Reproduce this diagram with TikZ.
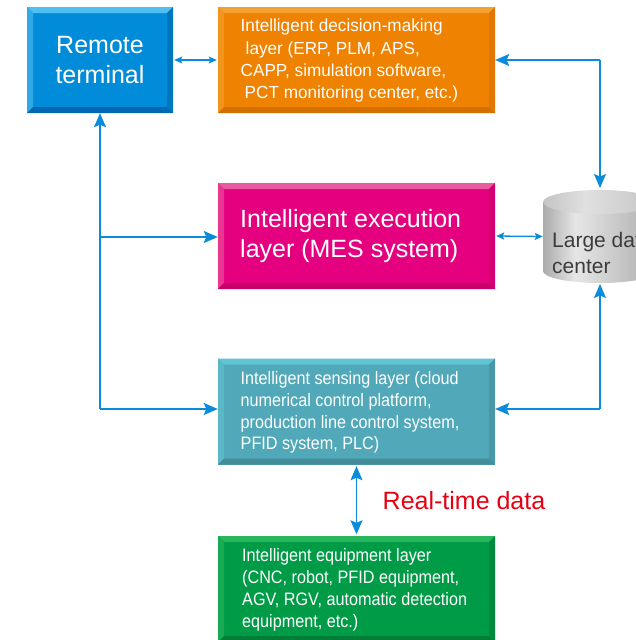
\documentclass[tikz,border=0pt]{standalone}
\usepackage{fontspec}
\setmainfont{Liberation Sans}
\newfontfamily\narrowfont[FakeStretch=0.9]{Liberation Sans}
\newfontfamily\semifont[FakeStretch=0.98]{Liberation Sans}
\usetikzlibrary{arrows.meta}
\definecolor{arr}{RGB}{10,140,218}
\definecolor{rtblue}{RGB}{0,140,216}
\definecolor{rtblueL}{RGB}{80,190,240}
\definecolor{rtblueD}{RGB}{0,104,178}
\definecolor{orng}{RGB}{239,130,0}
\definecolor{orngL}{RGB}{245,160,50}
\definecolor{orngD}{RGB}{212,112,0}
\definecolor{mgnt}{RGB}{228,0,127}
\definecolor{mgntL}{RGB}{234,90,158}
\definecolor{mgntD}{RGB}{200,0,108}
\definecolor{teal}{RGB}{80,168,185}
\definecolor{tealL}{RGB}{96,196,212}
\definecolor{tealD}{RGB}{68,140,154}
\definecolor{grn}{RGB}{0,155,70}
\definecolor{grnL}{RGB}{40,182,92}
\definecolor{grnD}{RGB}{0,126,56}
\definecolor{rtred}{RGB}{230,0,18}
\definecolor{dctext}{RGB}{60,60,60}
\definecolor{cylL}{RGB}{172,172,172}
\definecolor{cylM}{RGB}{230,230,230}
\definecolor{cyltL}{RGB}{196,196,196}
\definecolor{cyltM}{RGB}{224,224,224}
\tikzset{
  bevel/.style n args={3}{rectangle, inner sep=0pt, fill=#1,
    path picture={
      \fill[#2] (path picture bounding box.north west) -- (path picture bounding box.north east)
        -- ([xshift=-6pt,yshift=-6pt]path picture bounding box.north east)
        -- ([xshift=6pt,yshift=-6pt]path picture bounding box.north west) -- cycle;
      \fill[#2!60!#1] (path picture bounding box.north west) -- (path picture bounding box.south west)
        -- ([xshift=6pt,yshift=6pt]path picture bounding box.south west)
        -- ([xshift=6pt,yshift=-6pt]path picture bounding box.north west) -- cycle;
      \fill[#3] (path picture bounding box.south west) -- (path picture bounding box.south east)
        -- ([xshift=-6pt,yshift=6pt]path picture bounding box.south east)
        -- ([xshift=6pt,yshift=6pt]path picture bounding box.south west) -- cycle;
      \fill[#3!60!#1] (path picture bounding box.north east) -- (path picture bounding box.south east)
        -- ([xshift=-6pt,yshift=6pt]path picture bounding box.south east)
        -- ([xshift=-6pt,yshift=-6pt]path picture bounding box.north east) -- cycle;
    }},
  conn/.style={draw=arr, line width=1.3pt},
  bigtip/.style={-{Stealth[length=14pt,width=12pt,inset=2.5pt]}},
  bigtips/.style={{Stealth[length=14pt,width=12pt,inset=2.5pt]}-{Stealth[length=14pt,width=12pt,inset=2.5pt]}},
  smalltips/.style={{Stealth[length=8pt,width=7pt,inset=1.5pt]}-{Stealth[length=8pt,width=7pt,inset=1.5pt]}},
  boxtext/.style={text=white, inner sep=0pt, align=left, anchor=north west},
}
\begin{document}
\begin{tikzpicture}[x=1pt,y=-1pt]
\clip (0,0) rectangle (636,640);
\fill[white] (0,0) rectangle (636,640);

% boxes
\node[bevel={rtblue}{rtblueL}{rtblueD}, minimum width=146pt, minimum height=106pt] (rt) at (100,60) {};
\node[bevel={orng}{orngL}{orngD}, minimum width=277pt, minimum height=106pt] (dm) at (356.5,60) {};
\node[bevel={mgnt}{mgntL}{mgntD}, minimum width=277pt, minimum height=106pt] (ex) at (356.5,236) {};
\node[bevel={teal}{tealL}{tealD}, minimum width=277pt, minimum height=106pt] (se) at (356.5,411.5) {};
\node[bevel={grn}{grnL}{grnD}, minimum width=277pt, minimum height=106pt] (eq) at (356.5,589) {};

% texts
\node[text=white, align=center, font=\fontsize{25}{30}\selectfont] (rtt) at (100,60.5) {Remote\\terminal};
\node[boxtext, font=\semifont\fontsize{17.5}{22.3}\selectfont] (dmt) at (240.5,19)
  {Intelligent decision-making\\\hspace*{5pt}layer (ERP, PLM, APS,\\CAPP, simulation software,\\\hspace*{4pt}PCT monitoring center, etc.)};
\node[text=white, align=left, anchor=west, inner sep=0pt, font=\fontsize{25}{30}\selectfont] (ext) at (240,236.5) {Intelligent execution\\layer (MES system)};
\node[boxtext, font=\narrowfont\fontsize{18}{21.7}\selectfont] (set) at (240.5,371.5)
  {Intelligent sensing layer (cloud\\numerical control platform,\\production line control system,\\PFID system, PLC)};
\node[boxtext, font=\narrowfont\fontsize{18}{22}\selectfont] (eqt) at (242,548.5)
  {Intelligent equipment layer\\(CNC, robot, PFID equipment,\\AGV, RGV, automatic detection\\equipment, etc.)};

% data center cylinder (banded gradient)
\begin{scope}
  \clip (543,202) -- (543,271) arc[start angle=180,end angle=360,x radius=57pt,y radius=12pt]
    -- (657,202) -- cycle;
  \foreach \i in {0,...,57} {
    \pgfmathsetmacro\xx{543+2*\i}
    \pgfmathsetmacro\pp{ifthenelse(\xx<575, 100*(\xx-543)/32, 100*(657-\xx)/82)}
    \fill[cylM!\pp!cylL] (\xx,195) rectangle (\xx+2.3,290);
  }
\end{scope}
\begin{scope}
  \clip (600,202) ellipse[x radius=57pt, y radius=12pt];
  \foreach \i in {0,...,57} {
    \pgfmathsetmacro\xx{543+2*\i}
    \pgfmathsetmacro\pp{ifthenelse(\xx<585, 100*(\xx-543)/42, 100*(657-\xx)/72)}
    \fill[cyltM!\pp!cyltL] (\xx,188) rectangle (\xx+2.3,216);
  }
\end{scope}
\node[minimum width=114pt, minimum height=95pt, inner sep=0pt] (dc) at (600,236.5) {};
\node[text=dctext, align=left, anchor=west, inner sep=0pt, font=\fontsize{21}{26}\selectfont] (dct) at (552,253) {Large data\\center};

% label
\node[text=rtred, inner sep=0pt, font=\fontsize{25}{30}\selectfont] (rtd) at (464,501) {Real-time data};

% coordinates
\coordinate (c1) at (600,60);
\coordinate (c2) at (600,409);
\coordinate (c3) at (100,237);
\coordinate (c4) at (100,409);

% connectors
\draw[conn, smalltips] ([xshift=1pt]rt.east) -- ([xshift=-1pt]dm.west);
\draw[conn, bigtip] (c1) -- (dm.east);
\draw[conn, bigtip] (c1) -- (600,188);
\draw[conn, smalltips] ([xshift=1pt]ex.east) -- (dc.west);
\draw[conn, bigtip] (c2) -- (se.east |- c2);
\draw[conn, bigtip] (c2) -- (600,284);
\draw[conn, bigtip] (c4) -- (rt.south);
\draw[conn, bigtip] (c3) -- (ex.west |- c3);
\draw[conn, bigtip] (c4) -- (se.west |- c4);
\draw[conn, bigtips] ([yshift=-1.5pt]se.south) -- ([yshift=1.5pt]eq.north);
\end{tikzpicture}
\end{document}
